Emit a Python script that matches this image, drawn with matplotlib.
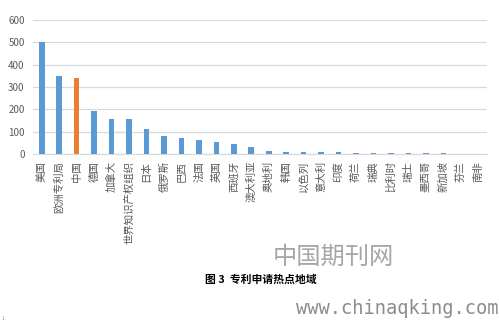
import matplotlib.pyplot as plt

plt.rcParams['font.family'] = ['Noto Sans CJK SC', 'DejaVu Sans']

# 专利申请热点地域
regions = ['美国', '欧洲专利局', '中国', '德国', '加拿大', '世界知识产权组织', '日本',
           '俄罗斯', '巴西', '法国', '英国', '西班牙', '澳大利亚', '奥地利', '韩国',
           '以色列', '意大利', '印度', '荷兰', '瑞典', '比利时', '瑞士', '墨西哥',
           '新加坡', '芬兰', '南非']
counts = [500, 351, 339, 191, 158, 158, 110, 82, 73, 61, 53, 47, 30, 15, 11,
          11, 11, 8, 3, 3, 3, 3, 3, 3, 0, 0]
highlight = '中国'
yticks = [0, 100, 200, 300, 400, 500, 600]

blue = '#5B9BD5'
orange = '#ED7D31'
colors = [orange if r == highlight else blue for r in regions]

fig = plt.figure(figsize=(4.99, 3.23), dpi=100)
ax = fig.add_axes([33 / 499, 169 / 323, 454 / 499, 134 / 323])

x = range(len(regions))
ax.bar(x, counts, width=0.32, color=colors, zorder=3)

ax.set_xlim(-0.5, len(regions) - 0.5)
ax.set_ylim(0, 600)
ax.set_yticks(yticks)
ax.set_xticks(list(x))
ax.set_xticklabels(regions, rotation=90, fontsize=7.5, color='#595959')
ax.tick_params(axis='y', labelsize=7, colors='#595959', length=0, pad=6)
ax.tick_params(axis='x', length=0, pad=5)
ax.grid(axis='y', color='#D9D9D9', linewidth=0.9, zorder=0)
for s in ['top', 'left', 'right']:
    ax.spines[s].set_visible(False)
ax.spines['bottom'].set_color('#D9D9D9')

# 图注
fig.text(261 / 499, 1 - 280 / 323, '图 3  专利申请热点地域', ha='center', va='center',
         fontsize=7.8, fontweight='bold', color='black')

# 水印
fig.text(333 / 499, 1 - 257 / 323, '中国期刊网', ha='center', va='center',
         fontsize=17.5, fontweight='light', color='#A6A6A6')
fig.text(499 / 499, 1 - 309 / 323, 'www.chinaqking.com', ha='right', va='center',
         fontsize=13.5, color='#8C8C8C', family='DejaVu Sans Mono')
fig.text(2 / 499, 1 - 318 / 323, '1', ha='left', va='center', fontsize=4, color='#999999')

fig.savefig('out.png', dpi=100)
